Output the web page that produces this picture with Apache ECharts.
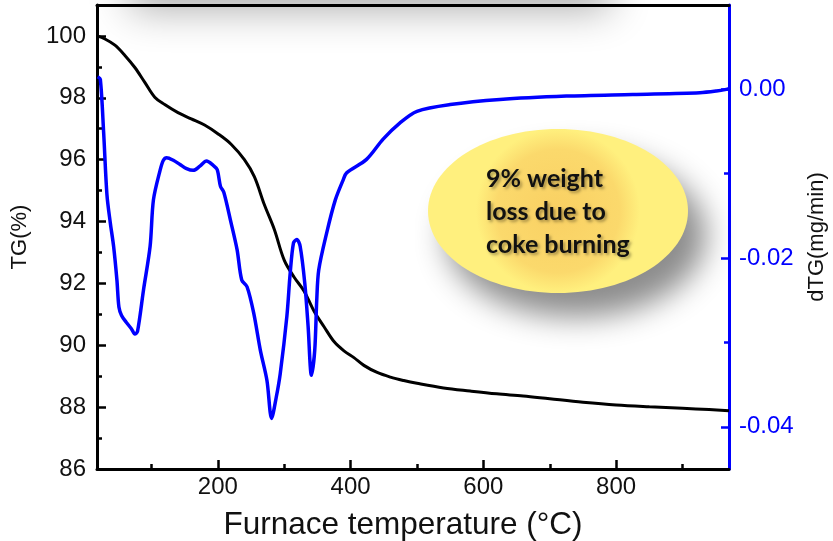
<!DOCTYPE html>
<html>
<head>
<meta charset="utf-8">
<script src="https://cdn.jsdelivr.net/npm/echarts@6/dist/echarts.min.js"></script>
<style>
  html, body { margin: 0; padding: 0; background: #fff; }
  #chart { width: 833px; height: 541px; }
</style>
</head>
<body>
<div id="chart"></div>
<script>
// Thermogravimetric curve: weight (%) vs furnace temperature (°C)
const tgTemp = [18, 30, 45, 60, 75, 90, 105, 120, 140, 160, 180, 200, 220, 240, 255, 270, 285, 300, 315, 330,
  345, 360, 375, 390, 405, 420, 440, 460, 480, 500, 540, 580, 620, 660, 700, 750, 800, 850, 900, 940, 970];
const tgValue = [100.0, 99.9, 99.7, 99.37, 98.98, 98.5, 98.02, 97.78, 97.52, 97.32, 97.12, 96.84, 96.5, 96.0, 95.45,
  94.55, 93.75, 92.75, 92.2, 91.75, 91.1, 90.6, 90.12, 89.82, 89.6, 89.35, 89.12, 88.97, 88.86, 88.77,
  88.62, 88.52, 88.43, 88.36, 88.27, 88.16, 88.07, 88.01, 87.96, 87.92, 87.88];

// Derivative curve dTG (mg/min)
const dtgTemp = [19, 23, 28, 33, 38, 43, 48, 51, 55, 62, 70, 75, 79, 88, 98, 103, 113, 118, 123, 133, 143, 153, 163,
  173, 183, 193, 199, 204, 209, 219, 229, 236, 244, 254, 264, 274, 281, 288, 294, 304, 309, 314, 319, 324,
  331, 336, 341, 346, 349, 352, 364, 377, 389, 394, 424, 449, 474, 500, 550, 625, 725, 825, 926, 951, 966, 970];
const dtgValue = [0.0015, 0.0012, -0.0051, -0.0125, -0.0158, -0.0186, -0.0226, -0.0258, -0.0268, -0.0276, -0.0284,
  -0.0290, -0.0287, -0.0238, -0.0186, -0.0131, -0.0096, -0.0084, -0.0081, -0.0084, -0.0089, -0.0094, -0.0096,
  -0.0091, -0.0085, -0.0090, -0.0095, -0.0115, -0.0122, -0.0155, -0.0190, -0.0226, -0.0234, -0.0265, -0.0309,
  -0.0345, -0.0390, -0.0365, -0.0337, -0.0269, -0.0218, -0.0182, -0.0178, -0.0186, -0.0230, -0.0281, -0.0339,
  -0.0309, -0.0250, -0.0214, -0.0170, -0.0131, -0.0107, -0.0099, -0.0083, -0.0059, -0.0040, -0.0026, -0.0018,
  -0.0012, -0.0008, -0.0006, -0.0004, -0.0002, 0.0000, 0.0001];

// Axis ticks
const xMajor = [200, 400, 600, 800];
const xMinor = [100, 300, 500, 700, 900];
const tgMajor = [86, 88, 90, 92, 94, 96, 98, 100];
const tgMinor = [87, 89, 91, 93, 95, 97, 99];
const dtgMajor = [-0.04, -0.02, 0.00];
const dtgMinor = [-0.03, -0.01];

const noteText = '9% weight\nloss due to\ncoke burning';

const FONT = '"Liberation Sans", Arial, sans-serif';
const BLUE = '#0000ff';

const chart = echarts.init(document.getElementById('chart'), null, { renderer: 'canvas' });

const pair = (xs, ys) => xs.map((x, i) => [x, ys[i]]);

chart.setOption({
  animation: false,
  backgroundColor: '#fff',
  grid: { left: 97, top: 5, width: 632, height: 464, containLabel: false, outerBoundsMode: 'none' },
  xAxis: [
    {
      type: 'value', min: 18, max: 970, position: 'bottom',
      axisLine: { onZero: false, lineStyle: { color: '#000', width: 3 } },
      axisTick: { inside: true, length: 9, customValues: xMajor, lineStyle: { color: '#000', width: 2.5 } },
      axisLabel: { customValues: xMajor, fontFamily: FONT, fontSize: 24, color: '#111', margin: 6 },
      splitLine: { show: false },
      name: 'Furnace temperature (°C)', nameLocation: 'middle', nameGap: 40,
      nameTextStyle: { fontFamily: FONT, fontSize: 31.5, color: '#111', padding: [0, 20, 0, 0] }
    },
    {
      type: 'value', min: 18, max: 970, position: 'bottom',
      axisLine: { show: false, onZero: false },
      axisTick: { inside: true, length: 5, customValues: xMinor, lineStyle: { color: '#000', width: 2.5 } },
      axisLabel: { show: false }, splitLine: { show: false }
    },
    {
      type: 'value', min: 18, max: 970, position: 'top',
      axisLine: { onZero: false, lineStyle: { color: '#000', width: 3 } },
      axisTick: { show: false }, axisLabel: { show: false }, splitLine: { show: false }
    }
  ],
  yAxis: [
    {
      type: 'value', min: 86, max: 101, position: 'left',
      axisLine: { onZero: false, lineStyle: { color: '#000', width: 3 } },
      axisTick: { inside: true, length: 9, customValues: tgMajor, lineStyle: { color: '#000', width: 2.5 } },
      axisLabel: { customValues: tgMajor, fontFamily: FONT, fontSize: 24, color: '#111', margin: 11 },
      splitLine: { show: false },
      name: 'TG(%)', nameLocation: 'middle', nameGap: 66,
      nameTextStyle: { fontFamily: FONT, fontSize: 22, color: '#111' }
    },
    {
      type: 'value', min: -0.045, max: 0.01, position: 'right',
      axisLine: { onZero: false, lineStyle: { color: BLUE, width: 3 } },
      axisTick: { inside: true, length: 8, customValues: dtgMajor, lineStyle: { color: BLUE, width: 2.5 } },
      axisLabel: {
        customValues: dtgMajor, fontFamily: FONT, fontSize: 24, color: BLUE, margin: 10,
        formatter: v => Number(v).toFixed(2)
      },
      splitLine: { show: false },
      name: 'dTG(mg/min)', nameLocation: 'middle', nameGap: 77,
      nameTextStyle: { fontFamily: FONT, fontSize: 22, color: '#111' }
    },
    {
      type: 'value', min: 86, max: 101, position: 'left',
      axisLine: { show: false, onZero: false },
      axisTick: { inside: true, length: 5, customValues: tgMinor, lineStyle: { color: '#000', width: 2.5 } },
      axisLabel: { show: false }, splitLine: { show: false }
    },
    {
      type: 'value', min: -0.045, max: 0.01, position: 'right',
      axisLine: { show: false, onZero: false },
      axisTick: { inside: true, length: 5, customValues: dtgMinor, lineStyle: { color: BLUE, width: 2.5 } },
      axisLabel: { show: false }, splitLine: { show: false }
    }
  ],
  series: [
    {
      name: 'TG', type: 'line', xAxisIndex: 0, yAxisIndex: 0,
      data: pair(tgTemp, tgValue), showSymbol: false, smooth: 0.35,
      lineStyle: { color: '#000', width: 3 }, z: 3
    },
    {
      name: 'dTG', type: 'line', xAxisIndex: 0, yAxisIndex: 1,
      data: pair(dtgTemp, dtgValue), showSymbol: false, smooth: 0.3,
      lineStyle: { color: BLUE, width: 3.5 }, z: 4
    }
  ],
  graphic: [
    {
      // soft shadow band under the top frame
      type: 'rect', z: -1,
      shape: { x: 130, y: -60, width: 480, height: 60 },
      style: { fill: '#fff', shadowBlur: 40, shadowOffsetY: 10, shadowColor: 'rgba(0,0,0,0.32)' }
    },
    {
      type: 'ellipse', z: 10,
      shape: { cx: 558, cy: 211, rx: 130, ry: 82 },
      style: {
        fill: {
          type: 'radial', x: 0.5, y: 0.5, r: 0.5,
          colorStops: [
            { offset: 0, color: '#f9d063' },
            { offset: 0.75, color: '#fbd96c' },
            { offset: 1, color: '#fff07e' }
          ]
        },
        shadowBlur: 30, shadowOffsetX: 18, shadowOffsetY: 24, shadowColor: 'rgba(0,0,0,0.45)'
      }
    },
    {
      type: 'text', z: 11, left: 486, top: 162,
      style: {
        text: noteText, fontFamily: 'Lato, "Open Sans", sans-serif', fontWeight: 'bold', fontSize: 25,
        lineHeight: 33, fill: '#111',
        textShadowColor: 'rgba(0,0,0,0.35)', textShadowBlur: 3, textShadowOffsetX: 2, textShadowOffsetY: 2
      }
    }
  ]
});
</script>
</body>
</html>
